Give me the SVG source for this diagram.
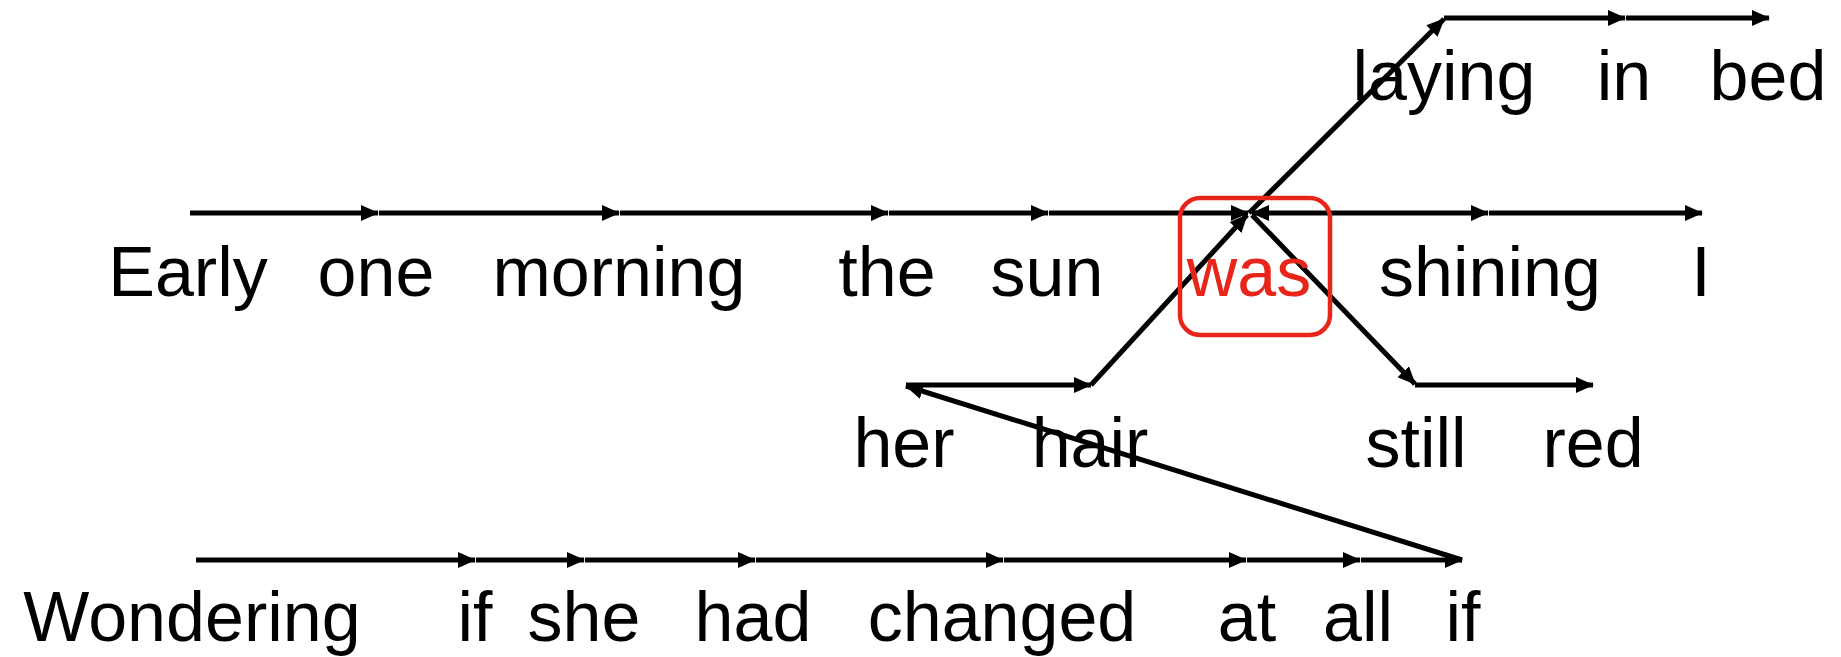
<svg xmlns="http://www.w3.org/2000/svg" width="1841" height="657" viewBox="0 0 1841 657">
<style>
.w{font-family:"Liberation Sans",Arial,sans-serif;font-size:70px;fill:#000;text-anchor:middle}
.red{fill:#e8251a}
.c line{stroke:#000;stroke-width:5;marker-end:url(#ah)}
</style>
<defs>
<marker id="ah" markerUnits="userSpaceOnUse" markerWidth="18" markerHeight="16" viewBox="0 0 18 16" refX="17" refY="8" orient="auto-start-reverse">
<path d="M0,0 L18,8 L0,16 z" fill="#000"/>
</marker>
</defs>
<rect width="1841" height="657" fill="#fff"/>
<g id="connectors" class="c">
<line x1="190" y1="213" x2="378" y2="213"/>
<line x1="379" y1="213" x2="619" y2="213"/>
<line x1="620" y1="213" x2="888" y2="213"/>
<line x1="889" y1="213" x2="1048" y2="213"/>
<line x1="1049" y1="213" x2="1248" y2="213"/>
<line x1="1252" y1="213" x2="1488" y2="213" marker-start="url(#ah)"/>
<line x1="1489" y1="213" x2="1702" y2="213"/>
<line x1="1249" y1="213" x2="1444" y2="19"/>
<line x1="1444" y1="18" x2="1625" y2="18"/>
<line x1="1626" y1="18" x2="1769" y2="18"/>
<line x1="1091" y1="385" x2="1247" y2="215"/>
<line x1="1252" y1="215" x2="1415" y2="384"/>
<line x1="1415" y1="385" x2="1593" y2="385"/>
<line x1="906" y1="385" x2="1091" y2="385"/>
<line x1="1462" y1="560" x2="906" y2="386"/>
<line x1="196" y1="560" x2="475" y2="560"/>
<line x1="476" y1="560" x2="584" y2="560"/>
<line x1="585" y1="560" x2="755" y2="560"/>
<line x1="756" y1="560" x2="1003" y2="560"/>
<line x1="1004" y1="560" x2="1246" y2="560"/>
<line x1="1247" y1="560" x2="1360" y2="560"/>
<line x1="1361" y1="560" x2="1462" y2="560"/>
</g>
<g id="n-early"><text class="w" x="188" y="296">Early</text></g>
<g id="n-one"><text class="w" x="376" y="296">one</text></g>
<g id="n-morning"><text class="w" x="619" y="296">morning</text></g>
<g id="n-the"><text class="w" x="887" y="296">the</text></g>
<g id="n-sun"><text class="w" x="1047" y="296">sun</text></g>
<g id="n-was"><rect x="1180" y="198" width="150" height="137" rx="20" ry="20" fill="none" stroke="#e8251a" stroke-width="4.5"/><text class="w red" x="1249" y="296">was</text></g>
<g id="n-shining"><text class="w" x="1490" y="296">shining</text></g>
<g id="n-I"><text class="w" x="1701" y="296">I</text></g>
<g id="n-laying"><text class="w" x="1444" y="100">laying</text></g>
<g id="n-in"><text class="w" x="1624" y="100">in</text></g>
<g id="n-bed"><text class="w" x="1768" y="100">bed</text></g>
<g id="n-her"><text class="w" x="904" y="467">her</text></g>
<g id="n-hair"><text class="w" x="1090" y="467">hair</text></g>
<g id="n-still"><text class="w" x="1416" y="467">still</text></g>
<g id="n-red"><text class="w" x="1593" y="467">red</text></g>
<g id="n-wondering"><text class="w" x="192" y="641">Wondering</text></g>
<g id="n-if1"><text class="w" x="475" y="641">if</text></g>
<g id="n-she"><text class="w" x="584" y="641">she</text></g>
<g id="n-had"><text class="w" x="753" y="641">had</text></g>
<g id="n-changed"><text class="w" x="1002" y="641">changed</text></g>
<g id="n-at"><text class="w" x="1247" y="641">at</text></g>
<g id="n-all"><text class="w" x="1358" y="641">all</text></g>
<g id="n-if2"><text class="w" x="1463" y="641">if</text></g>
</svg>
